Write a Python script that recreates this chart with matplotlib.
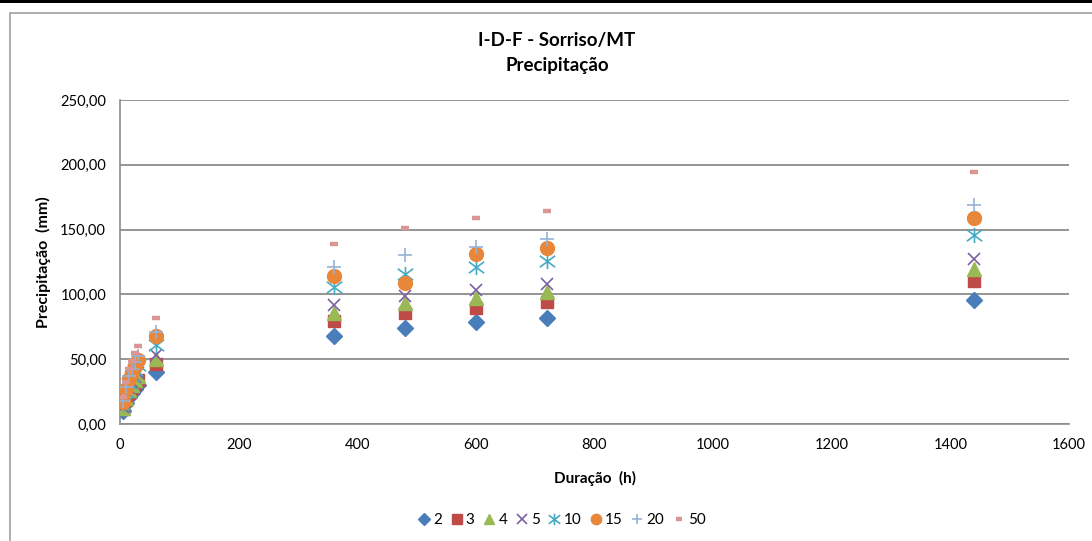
import matplotlib.pyplot as plt
from matplotlib.patches import Rectangle
from matplotlib.path import Path
from matplotlib.ticker import FuncFormatter, MultipleLocator

plt.rcParams['font.family'] = ['Lato', 'DejaVu Sans']

# durations (min) and precipitation (mm) per return period (years)
durations = [5, 10, 15, 20, 25, 30, 60, 360, 480, 600, 720, 1440]

tr_2 = [10.1, 16.1, 20.9, 24.2, 27.2, 29.8, 40.3, 67.8, 74.4, 78.6, 81.5, 96.0]
tr_3 = [11.7, 18.5, 24.0, 27.8, 31.2, 34.3, 46.4, 79.6, 85.6, 89.6, 94.0, 110.5]
tr_4 = [12.6, 20.0, 26.0, 30.1, 33.8, 37.1, 50.2, 85.8, 93.6, 97.4, 102.0, 119.8]
tr_5 = [13.5, 21.4, 27.7, 32.1, 36.1, 39.6, 53.6, 91.8, 98.6, 103.6, 108.4, 127.6]
tr_10 = [15.4, 24.5, 31.8, 36.8, 41.3, 45.4, 61.3, 105.6, 115.6, 121.4, 126.0, 146.0]
tr_15 = [16.8, 26.7, 34.6, 40.0, 45.0, 49.4, 67.6, 114.4, 109.0, 131.0, 136.0, 159.0]
tr_20 = [17.8, 28.3, 36.7, 42.4, 47.7, 52.4, 70.8, 121.0, 130.4, 136.8, 143.0, 168.8]
tr_50 = [20.5, 32.6, 42.3, 48.9, 55.0, 60.4, 81.5, 138.8, 151.0, 159.0, 164.2, 194.5]

# excel-style asterisk: an X with a vertical stroke through it
asterisk = Path([(-1, -0.75), (1, 0.75), (-1, 0.75), (1, -0.75), (0, -1), (0, 1)],
                [Path.MOVETO, Path.LINETO, Path.MOVETO, Path.LINETO, Path.MOVETO, Path.LINETO])

series = [
    ("2", tr_2, "D", "#4A7EBB", 8, 1.0),
    ("3", tr_3, "s", "#BE4B48", 9, 1.0),
    ("4", tr_4, "^", "#98B954", 10, 1.0),
    ("5", tr_5, "x", "#7D60A0", 9, 1.2),
    ("10", tr_10, asterisk, "#46AAC5", 11, 1.2),
    ("15", tr_15, "o", "#E8873A", 10, 1.0),
    ("20", tr_20, "+", "#95B3D7", 10, 1.2),
    ("50", tr_50, "_", "#D99694", 6, 3.2),
]

fig = plt.figure(figsize=(10.92, 5.41), dpi=100)
ax = fig.add_axes([120 / 1092, 1 - 424 / 541, 949 / 1092, 324 / 541])

# chart frame and top dark band
fig.patches.append(Rectangle((10 / 1092, -0.1), 1.2, 1.076, transform=fig.transFigure,
                             fill=False, edgecolor="#A0A0A0", linewidth=1.2, zorder=0))
fig.patches.append(Rectangle((0, 1 - 3 / 541), 1, 3 / 541, transform=fig.transFigure,
                             facecolor="black", edgecolor="none", zorder=0))

for label, vals, marker, color, size, mew in series:
    ax.plot(durations, vals, linestyle="none", marker=marker, color=color,
            markersize=size, markeredgewidth=mew, label=label, zorder=3)

ax.set_xlim(0, 1600)
ax.set_ylim(0, 250)
ax.xaxis.set_major_locator(MultipleLocator(200))
ax.yaxis.set_major_locator(MultipleLocator(50))
ax.yaxis.set_major_formatter(FuncFormatter(lambda v, p: f"{v:.2f}".replace(".", ",")))
ax.grid(axis="y", color="#8C8C8C", linewidth=1.3, zorder=1)
ax.set_axisbelow(True)
for side in ("top", "right"):
    ax.spines[side].set_visible(False)
for side in ("left", "bottom"):
    ax.spines[side].set_color("#8C8C8C")
    ax.spines[side].set_linewidth(1.2)
ax.tick_params(length=0, labelsize=10.5, pad=10, colors="black")

fig.text(557 / 1092, 1 - 53 / 541, "I-D-F - Sorriso/MT\nPrecipitação", ha="center",
         va="center", fontsize=13.5, fontweight="bold", linespacing=1.6)
ax.set_xlabel("Duração  (h)", fontsize=11, fontweight="bold", labelpad=14)
ax.set_ylabel("Precipitação  (mm)", fontsize=11.5, fontweight="bold", labelpad=7)

fig.legend(loc="center", bbox_to_anchor=(561 / 1092, 1 - 520 / 541), ncol=8,
           frameon=False, fontsize=11, handletextpad=0.1, columnspacing=0.45,
           handlelength=1.0, markerscale=0.75)

fig.savefig("out.png", dpi=100, facecolor="white")
